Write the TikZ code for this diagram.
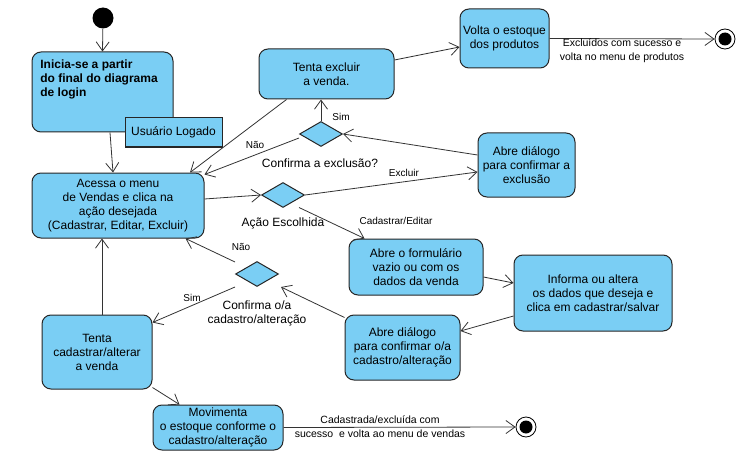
\documentclass[tikz,border=0pt]{standalone}
\usepackage{fontspec}
\setmainfont{Liberation Sans}
\usetikzlibrary{shapes.geometric,arrows.meta}
\definecolor{azul}{HTML}{7ACEF4}

\begin{document}
\begin{tikzpicture}[x=1pt, y=-1pt, line width=.8pt,
    estado/.style={draw=black!85, fill=azul, rounded corners=9pt, align=center,
        inner sep=0pt, line width=1pt, font=\fontsize{12}{14}\selectfont},
    decisao/.style={diamond, draw=black!85, fill=azul, inner sep=0pt,
        line width=1pt, minimum width=43pt, minimum height=25pt},
    fluxo/.style={every path/.style={draw=black!80,
        -{Straight Barb[length=9pt,width=13pt]}}},
    rotulo/.style={font=\fontsize{10}{12}\selectfont, inner sep=0pt},
    legenda/.style={font=\fontsize{12}{14}\selectfont, align=center, inner sep=0pt},
    fim/.style={circle, draw=black, fill=white, line width=.8pt, minimum size=20pt,
        inner sep=0pt, path picture={\fill[black] (path picture bounding box.center) circle (6.5pt);}}]
    \useasboundingbox (0,0) rectangle (748,460);

    % start and end points
    \node[circle, fill=black, minimum size=21pt, inner sep=0pt] (inicial) at (103,18) {};
    \node[fim] (fim1) at (725,39) {};
    \node[fim] (fim2) at (526,427) {};

    % states
    \node[estado, minimum width=141pt, minimum height=80pt] (inicio) at (102.5,92) {};
    \node[anchor=north west, align=left, inner sep=0pt,
        font=\fontsize{12}{14}\selectfont\bfseries] (iniciotxt) at (40,59)
        {Inicia-se a partir\\do final do diagrama\\de login};
    \node[draw=black!85, fill=azul, line width=1pt, minimum width=97pt, minimum height=29pt,
        font=\fontsize{12}{14}\selectfont] (logado) at (173.5,132.5) {Usuário Logado};
    \node[estado, minimum width=172pt, minimum height=65pt] (acessa) at (118,205.5)
        {Acessa o menu\\de Vendas e clica na\\ação desejada\\(Cadastrar, Editar, Excluir)};
    \node[estado, minimum width=135pt, minimum height=50pt] (excluir) at (326.5,74)
        {Tenta excluir\\a venda.};
    \node[estado, minimum width=89pt, minimum height=59pt] (volta) at (504.5,38.5)
        {Volta o estoque\\dos produtos};
    \node[estado, minimum width=97pt, minimum height=64pt] (dlgexcl) at (526.5,165)
        {Abre diálogo\\para confirmar a\\exclusão};
    \node[estado, minimum width=134pt, minimum height=56pt] (form) at (416,267)
        {Abre o formulário\\vazio ou com os\\dados da venda};
    \node[estado, minimum width=158pt, minimum height=76pt] (informa) at (593,293)
        {Informa ou altera\\os dados que deseja e\\clica em cadastrar/salvar};
    \node[estado, minimum width=115pt, minimum height=65pt] (dlgcad) at (402.5,347.5)
        {Abre diálogo\\para confirmar o/a\\cadastro/alteração};
    \node[estado, minimum width=110pt, minimum height=74pt] (tentacad) at (97,352)
        {Tenta\\cadastrar/alterar\\a venda};
    \node[estado, minimum width=130pt, minimum height=45pt] (movimenta) at (218,427.5)
        {Movimenta\\o estoque conforme o\\cadastro/alteração};

    % decisions
    \node[decisao] (dexcl) at (321,134) {};
    \node[decisao] (dacao) at (283,195) {};
    \node[decisao] (dcad) at (257,274) {};
    \node[legenda] (dexcltxt) at (320,163) {Confirma a exclusão?};
    \node[legenda] (dacaotxt) at (283,223) {Ação Escolhida};
    \node[legenda] (dcadtxt) at (257,313) {Confirma o/a\\cadastro/alteração};

    \begin{scope}[fluxo]
    \draw (inicial) -- (inicio.north);
    \draw ([xshift=7.5pt]inicio.south) -- ([xshift=-5pt]acessa.north);
    \draw ([xshift=28pt]excluir.south west) -- ([xshift=72pt]acessa.north);
    \draw ([yshift=-4pt]dexcl.west) -- ([yshift=-2pt]acessa.north east);
    \draw (dexcl.north) -- (dexcl.north |- excluir.south);
    \draw ([yshift=14pt]excluir.east) -- ([yshift=-8.5pt]volta.west);
    \draw (volta.east) -- (fim1.west);
    \draw ([yshift=10pt]dlgexcl.west) -- (dexcl.east);
    \draw ([yshift=6.5pt]acessa.east) -- (dacao.west);
    \draw (dacao.east) -- ([yshift=-7pt]dlgexcl.west);
    \draw ([shift={(5pt,-6pt)}]dacao.south east) -- ([xshift=16pt]form.north west);
    \draw ([yshift=-10pt]form.east) -- ([yshift=10pt]informa.west);
    \draw ([yshift=-23pt]informa.west) -- ([yshift=16.5pt]dlgcad.east);
    \draw ([yshift=-3pt]dlgcad.north west) -- ([shift={(2pt,-13pt)}]dcad.east);
    \draw ([yshift=12pt]dcad.west) -- ([xshift=-19pt]acessa.south east);
    \draw ([yshift=-13pt]dcad.west) -- ([yshift=-8pt]tentacad.north east);
    \draw ([xshift=5pt]tentacad.north) -- ([xshift=5pt]tentacad.north |- acessa.south);
    \draw ([yshift=2pt]tentacad.south east) -- ([xshift=27pt]movimenta.north west);
    \draw (movimenta.east) -- (fim2.west);
    \end{scope}

    % edge labels
    \node[rotulo] (sim1) at (341,117) {Sim};
    \node[rotulo] (nao1) at (255,145) {Não};
    \node[rotulo] (lexcluir) at (404,173) {Excluir};
    \node[rotulo] (lcadastrar) at (396,221) {Cadastrar/Editar};
    \node[rotulo] (nao2) at (241,247) {Não};
    \node[rotulo] (sim2) at (192,298) {Sim};
    \node[rotulo, align=center, font=\fontsize{10.5}{14}\selectfont] (lprodutos) at (622,51)
        {Excluídos com sucesso e\\volta no menu de produtos};
    \node[rotulo, align=center, font=\fontsize{10.5}{14}\selectfont] (lvendas) at (380,427)
        {Cadastrada/excluída com\\sucesso\ \ e volta ao menu de vendas};
\end{tikzpicture}
\end{document}
